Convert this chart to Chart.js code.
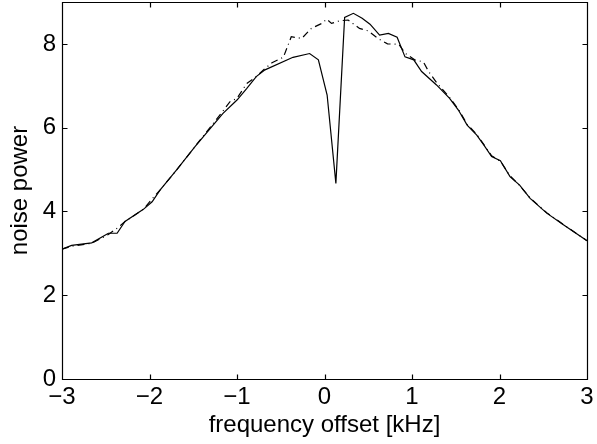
<!DOCTYPE html>
<html>
<head>
<meta charset="utf-8">
<script src="https://cdn.jsdelivr.net/npm/chart.js@4"></script>
<style>
html,body{margin:0;padding:0;background:#fff;}
#wrap{width:597px;height:444px;position:relative;}
</style>
</head>
<body>
<div id="wrap"><canvas id="c" width="597" height="444"></canvas></div>
<script>
const xTicks = [-3, -2, -1, 0, 1, 2, 3];
const yTicks = [0, 2, 4, 6, 8];
const xLabel = 'frequency offset [kHz]';
const yLabel = 'noise power';

const freqSolid = [-3.00,-2.89,-2.66,-2.47,-2.37,-2.28,-2.07,-1.97,-1.88,-1.69,-1.48,-1.29,-1.16,-1.00,-0.89,-0.78,-0.68,-0.36,-0.17,-0.07,0.03,0.13,0.23,0.33,0.43,0.52,0.63,0.73,0.83,0.92,1.02,1.11,1.28,1.43,1.53,1.63,1.74,1.82,1.91,2.01,2.12,2.23,2.35,2.54,2.73,3.00];
const powerSolid = [3.10,3.19,3.25,3.48,3.48,3.76,4.05,4.23,4.51,4.99,5.55,6.02,6.34,6.66,6.93,7.22,7.38,7.68,7.77,7.62,6.78,4.67,8.63,8.73,8.61,8.47,8.21,8.25,8.16,7.69,7.62,7.34,7.02,6.70,6.42,6.06,5.82,5.59,5.31,5.21,4.83,4.63,4.31,3.96,3.68,3.30];

const freqDashDot = [-3.00,-2.89,-2.66,-2.47,-2.37,-2.28,-2.07,-1.97,-1.88,-1.69,-1.48,-1.29,-1.16,-1.08,-1.00,-0.89,-0.78,-0.68,-0.60,-0.47,-0.38,-0.26,-0.15,-0.03,0.025,0.08,0.17,0.27,0.40,0.50,0.61,0.72,0.85,0.92,1.03,1.13,1.19,1.28,1.43,1.53,1.63,1.74,1.82,1.91,2.01,2.12,2.23,2.35,2.54,2.73,3.00];
const powerDashDot = [3.10,3.17,3.24,3.45,3.60,3.76,4.05,4.30,4.51,4.99,5.55,6.05,6.40,6.62,6.70,7.05,7.22,7.41,7.55,7.68,8.17,8.13,8.37,8.49,8.59,8.49,8.55,8.57,8.37,8.31,8.13,8.00,7.99,7.78,7.62,7.57,7.34,7.08,6.72,6.44,6.08,5.84,5.60,5.33,5.20,4.85,4.62,4.32,3.97,3.69,3.30];

const toPts = (xs, ys) => xs.map((x, i) => ({x: x, y: ys[i]}));

const FONT = '"Liberation Sans", Arial, Helvetica, sans-serif';

const boxPlugin = {
  id: 'axisBox',
  afterDraw(chart) {
    const ctx = chart.ctx;
    const a = chart.chartArea;
    const sx = chart.scales.x, sy = chart.scales.y;
    ctx.save();
    ctx.strokeStyle = '#000';
    ctx.lineWidth = 1.2;
    ctx.setLineDash([]);
    const L = Math.round(a.left) + 0.5, R = Math.round(a.right) + 0.5;
    const T = Math.round(a.top) + 0.5, B = Math.round(a.bottom) + 0.5;
    ctx.beginPath();
    ctx.rect(L, T, R - L, B - T);
    const tl = 5;
    xTicks.forEach(v => {
      const px = Math.round(sx.getPixelForValue(v)) + 0.5;
      ctx.moveTo(px, B); ctx.lineTo(px, B - tl);
      ctx.moveTo(px, T); ctx.lineTo(px, T + tl);
    });
    yTicks.forEach(v => {
      const py = Math.round(sy.getPixelForValue(v)) + 0.5;
      ctx.moveTo(L, py); ctx.lineTo(L + tl, py);
      ctx.moveTo(R, py); ctx.lineTo(R - tl, py);
    });
    ctx.stroke();
    ctx.restore();
  }
};

new Chart(document.getElementById('c'), {
  type: 'line',
  data: {
    datasets: [
      {
        data: toPts(freqSolid, powerSolid),
        borderColor: '#000',
        borderWidth: 1.2,
        pointRadius: 0,
        tension: 0,
        fill: false
      },
      {
        data: toPts(freqDashDot, powerDashDot),
        borderColor: '#000',
        borderWidth: 1.2,
        borderDash: [7, 4, 1, 4],
        pointRadius: 0,
        tension: 0,
        fill: false
      }
    ]
  },
  options: {
    responsive: false,
    animation: false,
    events: [],
    layout: {padding: {top: 2, right: 10, left: 0, bottom: 0}},
    plugins: {legend: {display: false}, tooltip: {enabled: false}},
    scales: {
      x: {
        type: 'linear',
        min: -3, max: 3,
        afterBuildTicks: s => { s.ticks = xTicks.map(v => ({value: v})); },
        afterFit: s => { s.height = 65; s.paddingLeft = 0; s.paddingRight = 0; },
        grid: {display: false, drawTicks: false},
        border: {display: false},
        ticks: {
          color: '#000', padding: 4, maxRotation: 0, autoSkip: false,
          font: {family: FONT, size: 24},
          callback: v => (v < 0 ? '\u2212' + Math.abs(v) : String(v))
        },
        title: {display: true, text: xLabel, color: '#000', font: {family: FONT, size: 24}, padding: {top: 0, bottom: 4}}
      },
      y: {
        type: 'linear',
        min: 0, max: 9,
        afterBuildTicks: s => { s.ticks = yTicks.map(v => ({value: v})); },
        afterFit: s => { s.width = 62; s.paddingTop = 0; s.paddingBottom = 0; },
        grid: {display: false, drawTicks: false},
        border: {display: false},
        ticks: {
          color: '#000', padding: 6, autoSkip: false,
          font: {family: FONT, size: 24}
        },
        title: {display: true, text: yLabel, color: '#000', font: {family: FONT, size: 24}, padding: {top: 6, bottom: 0}}
      }
    }
  },
  plugins: [boxPlugin]
});
</script>
</body>
</html>
